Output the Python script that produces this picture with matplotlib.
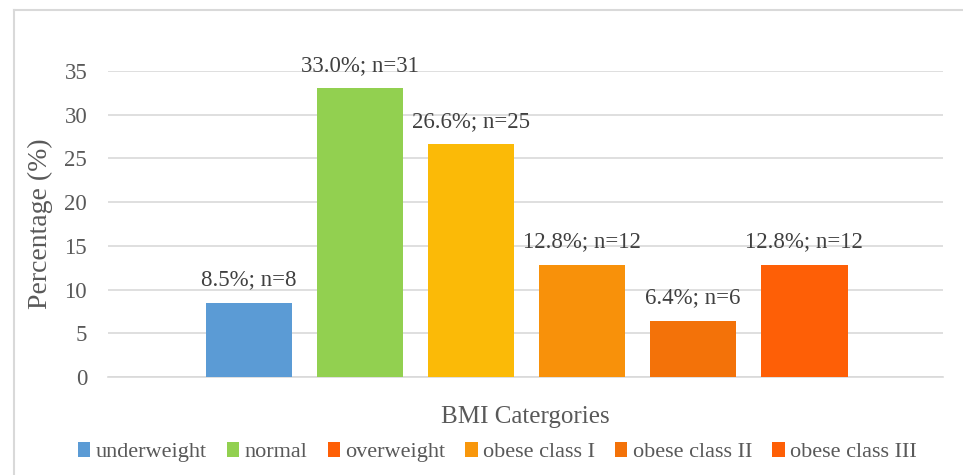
import matplotlib
matplotlib.use("Agg")
import matplotlib.pyplot as plt
from matplotlib.patches import Patch
from matplotlib.lines import Line2D

categories = ["underweight", "normal", "overweight", "obese class I", "obese class II", "obese class III"]
percent = [8.5, 33.0, 26.6, 12.8, 6.4, 12.8]
counts = [8, 31, 25, 12, 6, 12]
bar_colors = ["#5B9BD5", "#92D050", "#FBBA07", "#F8910A", "#F37209", "#FE5F06"]
legend_colors = ["#5B9BD5", "#92D050", "#FE5F06", "#F8970C", "#F37209", "#FE5F06"]
yticks = [0, 5, 10, 15, 20, 25, 30, 35]

plt.rcParams['font.family'] = ['Liberation Serif', 'DejaVu Serif']
txt = "#404040"
tick_c = "#595959"

fig = plt.figure(figsize=(9.63, 4.75), dpi=100)
ax = fig.add_axes([108/963, 1 - 377/475, (943-108)/963, (377-71)/475])

x = list(range(len(categories)))
ax.bar(x, percent, width=0.78, color=bar_colors, zorder=3)
for xi, p, n in zip(x, percent, counts):
    ax.text(xi, p + 2.0, f"{p:.1f}%; n={n}", ha="center", va="baseline",
            fontsize=16.5, color=txt, zorder=4)

ax.set_ylim(0, 35)
ax.set_xlim(-1.27, 5 + 1.25)
ax.set_yticks(yticks)
ax.set_yticklabels([str(t) for t in yticks], fontsize=16.5, color=tick_c)
ax.set_xticks([])
ax.grid(axis="y", color="#D9D9D9", linewidth=1.2, zorder=0)
ax.tick_params(axis="y", length=0, pad=15)
for s in ["top", "right", "left"]:
    ax.spines[s].set_visible(False)
ax.spines["bottom"].set_color("#D9D9D9")
ax.spines["bottom"].set_linewidth(1.2)
ax.set_ylabel("Percentage (%)", fontsize=20, color=tick_c, labelpad=8)
ax.set_xlabel("BMI Catergories", fontsize=18, color=tick_c, labelpad=21)

handles = [Patch(facecolor=c, edgecolor="none") for c in legend_colors]
fig.legend(handles, categories, loc="center", bbox_to_anchor=(0.5166, 1 - 452/475),
           ncol=6, frameon=False, fontsize=16, handlelength=0.55, handleheight=0.7,
           handletextpad=0.25, columnspacing=0.9, labelcolor=tick_c)

# outer frame (cropped chart border)
fig.add_artist(Line2D([14/963, 14/963], [0, 1 - 10/475], transform=fig.transFigure,
                      color="#D9D9D9", linewidth=1.5))
fig.add_artist(Line2D([14/963, 962/963], [1 - 10/475, 1 - 10/475], transform=fig.transFigure,
                      color="#D9D9D9", linewidth=1.5))

fig.savefig("out.png", dpi=100)
